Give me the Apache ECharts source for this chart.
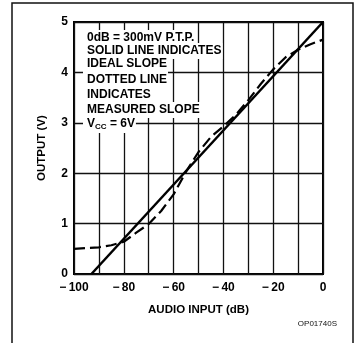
<!DOCTYPE html>
<html>
<head>
<meta charset="utf-8">
<script src="https://cdn.jsdelivr.net/npm/echarts@6/dist/echarts.min.js"></script>
<style>
html,body{margin:0;padding:0;background:#fff;}
#chart{width:359px;height:343px;}
</style>
</head>
<body>
<div id="chart"></div>
<script>
// Ideal slope (solid line): audio input dB -> output V
var idealX = [-93, 0];
var idealY = [0, 5];

// Measured slope (dashed line)
var measuredX = [-100, -90, -85, -80, -75, -70, -65, -60, -55, -50, -45, -40, -35, -30, -25, -20, -15, -10, -5, 0];
var measuredY = [0.50, 0.53, 0.57, 0.64, 0.82, 0.99, 1.25, 1.58, 2.03, 2.42, 2.72, 2.93, 3.16, 3.45, 3.77, 4.06, 4.30, 4.45, 4.56, 4.65];

var xTickLabels = [-100, -80, -60, -40, -20, 0];

var noteLines = [
  '0dB = 300mV P.T.P.',
  'SOLID LINE INDICATES',
  'IDEAL SLOPE',
  'DOTTED LINE',
  'INDICATES',
  'MEASURED SLOPE'
];
var noteY = [38, 51, 64, 80, 95, 110];

function pairs(xs, ys){ return xs.map(function(x,i){ return [x, ys[i]]; }); }

var FONT = '"Liberation Sans", Arial, sans-serif';
var chart = echarts.init(document.getElementById('chart'));

var graphics = [{
  type: 'rect', z: 0, silent: true,
  shape: { x: 12, y: 3, width: 341, height: 350 },
  style: { fill: 'none', stroke: '#111', lineWidth: 1.5 }
}];
noteLines.forEach(function(t, i){
  graphics.push({
    type: 'text', z: 100, silent: true,
    x: 83, y: noteY[i],
    style: {
      text: t, fill: '#000', font: 'bold 12px ' + FONT,
      verticalAlign: 'middle', backgroundColor: '#fff', padding: [2, 1, 2, 4]
    }
  });
});
graphics.push({
  type: 'text', z: 100, silent: true,
  x: 83, y: 124,
  style: {
    text: '{m|V}{s|CC}{m| = 6V}', fill: '#000',
    verticalAlign: 'middle', backgroundColor: '#fff', padding: [2, 1, 2, 4],
    rich: {
      m: { font: 'bold 12px ' + FONT, fill: '#000', lineHeight: 14 },
      s: { font: 'bold 8px ' + FONT, fill: '#000', padding: [6, 0, 0, 0], lineHeight: 14 }
    }
  }
});
graphics.push({
  type: 'text', z: 100, silent: true,
  x: 337, y: 324,
  style: { text: 'OP01740S', fill: '#111', font: '8px ' + FONT, align: 'right', verticalAlign: 'middle' }
});

chart.setOption({
  animation: false,
  backgroundColor: '#fff',
  grid: { left: 74, right: 36, top: 22, bottom: 69, show: true, borderColor: '#000', borderWidth: 2, backgroundColor: 'transparent' },
  xAxis: {
    type: 'value', min: -100, max: 0, interval: 10,
    name: 'AUDIO INPUT (dB)', nameLocation: 'middle', nameGap: 30,
    nameTextStyle: { fontFamily: FONT, fontWeight: 'bold', fontSize: 11.5, color: '#000' },
    axisLine: { show: false }, axisTick: { show: false },
    splitLine: { show: true, lineStyle: { color: '#111', width: 1.3 } },
    axisLabel: {
      margin: 8, color: '#000', fontFamily: FONT, fontWeight: 'bold', fontSize: 12,
      formatter: function(v){
        if (xTickLabels.indexOf(v) < 0) return '';
        return v < 0 ? '\u2212\u2009' + Math.abs(v) : String(v);
      }
    }
  },
  yAxis: {
    type: 'value', min: 0, max: 5, interval: 1,
    name: 'OUTPUT (V)', nameLocation: 'middle', nameGap: 26, nameRotate: 90,
    nameTextStyle: { fontFamily: FONT, fontWeight: 'bold', fontSize: 11.5, color: '#000' },
    axisLine: { show: false }, axisTick: { show: false },
    splitLine: { show: true, lineStyle: { color: '#111', width: 1.3 } },
    axisLabel: { margin: 6, color: '#000', fontFamily: FONT, fontWeight: 'bold', fontSize: 12 }
  },
  graphic: graphics,
  series: [
    {
      type: 'line', data: pairs(idealX, idealY), symbol: 'none', z: 5,
      lineStyle: { color: '#000', width: 2.5 }
    },
    {
      type: 'line', data: pairs(measuredX, measuredY), symbol: 'none', z: 6,
      lineStyle: { color: '#000', width: 2.2, type: [11, 5] }
    }
  ]
});
</script>
</body>
</html>
